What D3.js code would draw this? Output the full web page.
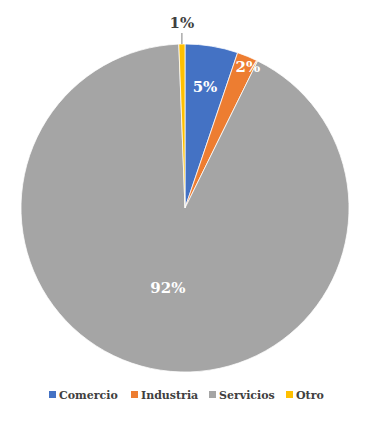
<!DOCTYPE html>
<html><head><meta charset="utf-8">
<script src="https://cdn.jsdelivr.net/npm/d3@7"></script>
<style>body{margin:0;background:#fff;}svg{display:block;}</style>
</head><body>
<script>
const categories = ["Comercio","Industria","Servicios","Otro"];
const values = [5.2, 2.1, 92.1, 0.6];
const labels = ["5%","2%","92%","1%"];
const colors = ["#4472C4","#ED7D31","#A5A5A5","#FFC000"];

const W=383,H=424, cx=185, cy=208, R=164;
const svg=d3.select("body").append("svg").attr("width",W).attr("height",H);
const g=svg.append("g").attr("transform",`translate(${cx},${cy})`);
const pie=d3.pie().sort(null).value(d=>d)(values);
const arc=d3.arc().innerRadius(0).outerRadius(R);
g.selectAll("path").data(pie).join("path").attr("d",arc)
 .attr("fill",(d,i)=>colors[i]).attr("stroke","#fff").attr("stroke-width",0.75);

const font="'DejaVu Serif', Georgia, serif";
const labelR=[123,155,82,null];
const labelDA=[0,0.025,0,0];
pie.forEach((d,i)=>{
  const a=(d.startAngle+d.endAngle)/2+labelDA[i];
  if(labelR[i]!==null){
    const r=labelR[i];
    g.append("text").attr("x",Math.sin(a)*r).attr("y",-Math.cos(a)*r)
     .attr("text-anchor","middle").attr("dy","0.35em")
     .attr("font-family",font).attr("font-weight","bold").attr("font-size",15)
     .attr("fill","#fff").text(labels[i]);
  } else {
    const x=Math.sin(a)*R;
    g.append("line").attr("x1",x).attr("x2",x).attr("y1",-R).attr("y2",-R-11)
     .attr("stroke","#7f7f7f").attr("stroke-width",1);
    g.append("text").attr("x",x).attr("y",-R-21)
     .attr("text-anchor","middle").attr("dy","0.35em")
     .attr("font-family",font).attr("font-weight","bold").attr("font-size",15)
     .attr("fill","#404040").text(labels[i]);
  }
});

const legX=[49,131,209,286];
const leg=svg.append("g");
categories.forEach((c,i)=>{
  leg.append("rect").attr("x",legX[i]).attr("y",391).attr("width",7).attr("height",7).attr("fill",colors[i]);
  leg.append("text").attr("x",legX[i]+10).attr("y",395).attr("dy","0.35em")
   .attr("font-family",font).attr("font-weight","bold").attr("font-size",11)
   .attr("fill","#404040").text(c);
});
</script>
</body></html>
